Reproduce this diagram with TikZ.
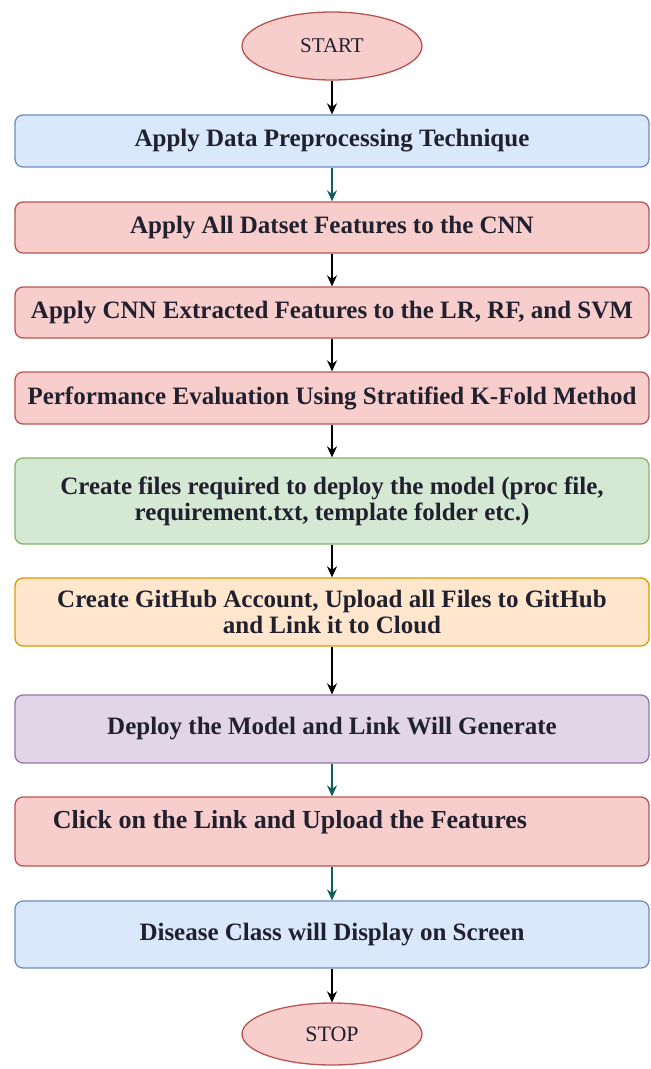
\documentclass[tikz,border=0pt]{standalone}
\usepackage{fontspec}
\setmainfont{Liberation Serif}
\usetikzlibrary{arrows.meta,shapes.geometric}
\definecolor{bluefill}{HTML}{DAE8FC}
\definecolor{blueline}{HTML}{6C8EBF}
\definecolor{redfill}{HTML}{F8CECC}
\definecolor{redline}{HTML}{B85450}
\definecolor{greenfill}{HTML}{D5E8D4}
\definecolor{greenline}{HTML}{82B366}
\definecolor{orangefill}{HTML}{FFE6CC}
\definecolor{orangeline}{HTML}{D79B00}
\definecolor{purplefill}{HTML}{E1D5E7}
\definecolor{purpleline}{HTML}{9673A6}
\definecolor{teal}{RGB}{16,94,90}
\definecolor{ink}{HTML}{20202E}

\begin{document}
\begin{tikzpicture}[x=1pt,y=-1pt]
\tikzstyle{every node}=[font=\fontsize{25}{26}\selectfont\bfseries,text=ink];
\tikzstyle{box}=[draw,rounded corners=8pt,line width=1.3pt,minimum width=634pt,inner sep=0pt,align=center];
\tikzstyle{terminal}=[ellipse,draw=redline,fill=redfill,line width=1.3pt,minimum width=180pt,inner sep=0pt,font=\fontsize{21}{24}\selectfont];
\tikzstyle{flow}=[-{Stealth[length=11pt,width=10pt]},line width=1.5pt];
\useasboundingbox (0,0) rectangle (651,1069);

\node[terminal,minimum height=68pt] (start) at (332,46) {START};
\node[box,draw=blueline,fill=bluefill,minimum height=52pt] (prep) at (332,141) {Apply Data Preprocessing Technique};
\node[box,draw=redline,fill=redfill,minimum height=51pt] (cnn) at (332,227.5) {Apply All Datset Features to the CNN};
\node[box,draw=redline,fill=redfill,minimum height=51pt] (clf) at (332,312.5) {Apply CNN Extracted Features to the LR, RF, and SVM};
\node[box,draw=redline,fill=redfill,minimum height=52pt] (eval) at (332,398) {Performance Evaluation Using Stratified K-Fold Method};
\node[box,draw=greenline,fill=greenfill,minimum height=86pt] (files) at (332,501) {Create files required to deploy the model (proc file,\\requirement.txt, template folder etc.)};
\node[box,draw=orangeline,fill=orangefill,minimum height=68pt] (github) at (332,612) {Create GitHub Account, Upload all Files to GitHub\\and Link it to Cloud};
\node[box,draw=purpleline,fill=purplefill,minimum height=68pt] (deploy) at (332,729) {Deploy the Model and Link Will Generate};
\node[box,draw=redline,fill=redfill,minimum height=69pt] (upload) at (332,831.5) {};
\node (uploadtxt) at (290,822) {\fontsize{26}{28}\selectfont Click on the Link and Upload the Features};
\node[box,draw=blueline,fill=bluefill,minimum height=67pt] (result) at (332,934.5) {Disease Class will Display on Screen};
\node[terminal,minimum height=62pt,font=\fontsize{22}{24}\selectfont] (stop) at (332,1034) {STOP};

% connectors
\draw[flow] (start) -- (prep);
\draw[flow,teal] (prep) -- (cnn);
\draw[flow] (cnn) -- (clf);
\draw[flow] (clf) -- (eval);
\draw[flow] (eval) -- (files);
\draw[flow] (files) -- (github);
\draw[flow] (github) -- (deploy);
\draw[flow,teal] (deploy) -- (upload);
\draw[flow,teal] (upload) -- (result);
\draw[flow] (result) -- (stop);
\end{tikzpicture}
\end{document}
